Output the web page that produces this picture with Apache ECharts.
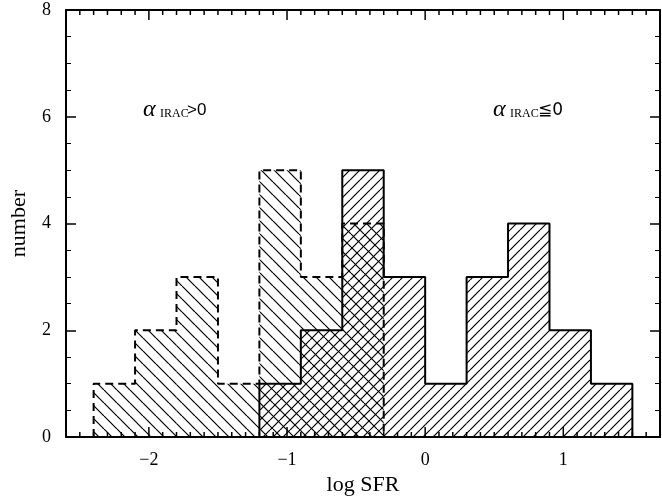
<!DOCTYPE html>
<html>
<head>
<meta charset="utf-8">
<script src="https://cdn.jsdelivr.net/npm/echarts@6/dist/echarts.min.js"></script>
<style>
  html, body { margin: 0; padding: 0; background: #fff; }
  #chart { width: 662px; height: 501px; }
</style>
</head>
<body>
<div id="chart"></div>
<script>
// histogram bins (log SFR), width 0.3
const binWidth = 0.3;
const posStarts = [-2.4, -2.1, -1.8, -1.5, -1.2, -0.9, -0.6];   // alpha_IRAC > 0 (dashed)
const posCounts = [1, 2, 3, 1, 5, 3, 4];
const negStarts = [-1.2, -0.9, -0.6, -0.3, 0, 0.3, 0.6, 0.9, 1.2];   // alpha_IRAC <= 0 (solid)
const negCounts = [1, 2, 5, 3, 1, 3, 4, 2, 1];
const xMajor = [-2, -1, 0, 1];
const xMin = -2.6, xMax = 1.7, yMin = 0, yMax = 8;

// tick marks every 0.1 on the x frame (labelled ones are long)
const xTickValues = [];
for (let i = -25; i <= 16; i++) xTickValues.push(i / 10);

const gridBox = { left: 59, right: 2, top: 10, bottom: 63 };
const plotHeight = 501 - gridBox.top - gridBox.bottom;

const chart = echarts.init(document.getElementById('chart'));

// hatch tiles
function hatch(size, dir) {
    const c = document.createElement('canvas');
    c.width = size; c.height = size;
    const ctx = c.getContext('2d');
    ctx.strokeStyle = '#000';
    ctx.lineWidth = 1.2;
    for (let o = -size; o <= size; o += size) {
        ctx.beginPath();
        if (dir === '/') {
            ctx.moveTo(o, size); ctx.lineTo(o + size, 0);
        } else {
            ctx.moveTo(o, 0); ctx.lineTo(o + size, size);
        }
        ctx.stroke();
    }
    return { image: c, repeat: 'repeat' };
}
const patterns = [hatch(13, '\\'), hatch(10, '/')];

// [start, count, group]  group 0 = alpha>0, 1 = alpha<=0
function bars() {
    const out = [];
    posStarts.forEach((s, i) => out.push([s, posCounts[i], 0]));
    negStarts.forEach((s, i) => out.push([s, negCounts[i], 1]));
    return out;
}
function outline(starts, counts) {
    const pts = [[starts[0], 0]];
    starts.forEach((s, i) => pts.push([s, counts[i]]));
    pts.push([starts[starts.length - 1] + binWidth, 0]);
    return pts;
}

// x-frame tick marks as short broken line segments on the x scale
function tickSegments() {
    const unit = (yMax - yMin) / plotHeight;
    const pts = [];
    xTickValues.forEach(v => {
        const d = (xMajor.indexOf(v) >= 0 ? 10 : 5) * unit;
        pts.push([v, yMin], [v, yMin + d], [v, null]);
        pts.push([v, yMax], [v, yMax - d], [v, null]);
    });
    return pts;
}

const minus = v => String(v).replace('-', '\u2212');

const yTick = { show: true, inside: true, length: 10, lineStyle: { color: '#000', width: 1.5 } };
const yMinor = { show: true, splitNumber: 4, length: 5, lineStyle: { color: '#000', width: 1 } };
const frameLine = { show: true, onZero: false, lineStyle: { color: '#000', width: 2 } };

const option = {
    animation: false,
    grid: gridBox,
    xAxis: [
        {
            type: 'value', position: 'bottom', min: xMin, max: xMax, interval: 0.1,
            splitLine: { show: false },
            axisLine: frameLine,
            axisTick: { show: false },
            axisLabel: { customValues: xMajor, margin: 14, fontSize: 18,
                fontFamily: 'Liberation Serif', color: '#000', formatter: minus },
            name: 'log SFR', nameLocation: 'middle', nameGap: 36,
            nameTextStyle: { fontFamily: 'Liberation Serif', fontSize: 22, color: '#000' }
        },
        {
            type: 'value', position: 'top', min: xMin, max: xMax, interval: 0.1,
            splitLine: { show: false },
            axisLine: frameLine,
            axisTick: { show: false },
            axisLabel: { show: false }
        }
    ],
    yAxis: [
        {
            type: 'value', position: 'left', min: yMin, max: yMax, interval: 2,
            splitLine: { show: false },
            axisLine: frameLine,
            axisTick: yTick,
            minorTick: yMinor,
            axisLabel: { margin: 15, fontSize: 18, fontFamily: 'Liberation Serif', color: '#000' },
            name: 'number', nameLocation: 'middle', nameGap: 36,
            nameTextStyle: { fontFamily: 'Liberation Serif', fontSize: 22, color: '#000' }
        },
        {
            type: 'value', position: 'right', min: yMin, max: yMax, interval: 2,
            splitLine: { show: false },
            axisLine: frameLine,
            axisTick: yTick,
            minorTick: yMinor,
            axisLabel: { show: false }
        }
    ],
    graphic: [
        { type: 'text', left: 143, top: 98, style: { text: '\u03b1', font: 'italic 24px "Liberation Serif"', fill: '#000' } },
        { type: 'text', left: 160, top: 108, style: { text: 'IRAC', font: '12px "Liberation Serif"', fill: '#000' } },
        { type: 'text', left: 187, top: 102, style: { text: '>0', font: '17px "Liberation Sans"', fill: '#000' } },
        { type: 'text', left: 493, top: 98, style: { text: '\u03b1', font: 'italic 24px "Liberation Serif"', fill: '#000' } },
        { type: 'text', left: 510, top: 108, style: { text: 'IRAC', font: '12px "Liberation Serif"', fill: '#000' } },
        { type: 'text', left: 538, top: 102, style: { text: '\u2266' + '0', font: '17px "DejaVu Sans"', fill: '#000' } }
    ],
    series: [
        {
            type: 'custom',
            data: bars(),
            silent: true,
            renderItem: function (params, api) {
                const x0 = api.value(0), c = api.value(1), g = api.value(2);
                const p0 = api.coord([x0, c]);
                const p1 = api.coord([x0 + binWidth, 0]);
                return {
                    type: 'rect',
                    shape: { x: p0[0], y: p0[1], width: p1[0] - p0[0], height: p1[1] - p0[1] },
                    style: { fill: patterns[g] }
                };
            }
        },
        {
            type: 'line', symbol: 'none', silent: true, connectNulls: false,
            data: tickSegments(),
            lineStyle: { color: '#000', width: 1.5 }
        },
        {
            type: 'line', step: 'end', symbol: 'none', silent: true,
            data: outline(negStarts, negCounts),
            lineStyle: { color: '#000', width: 2 }
        },
        {
            type: 'line', step: 'end', symbol: 'none', silent: true,
            data: outline(posStarts, posCounts),
            lineStyle: { color: '#000', width: 2, type: [8, 5] }
        }
    ]
};
chart.setOption(option);
</script>
</body>
</html>
